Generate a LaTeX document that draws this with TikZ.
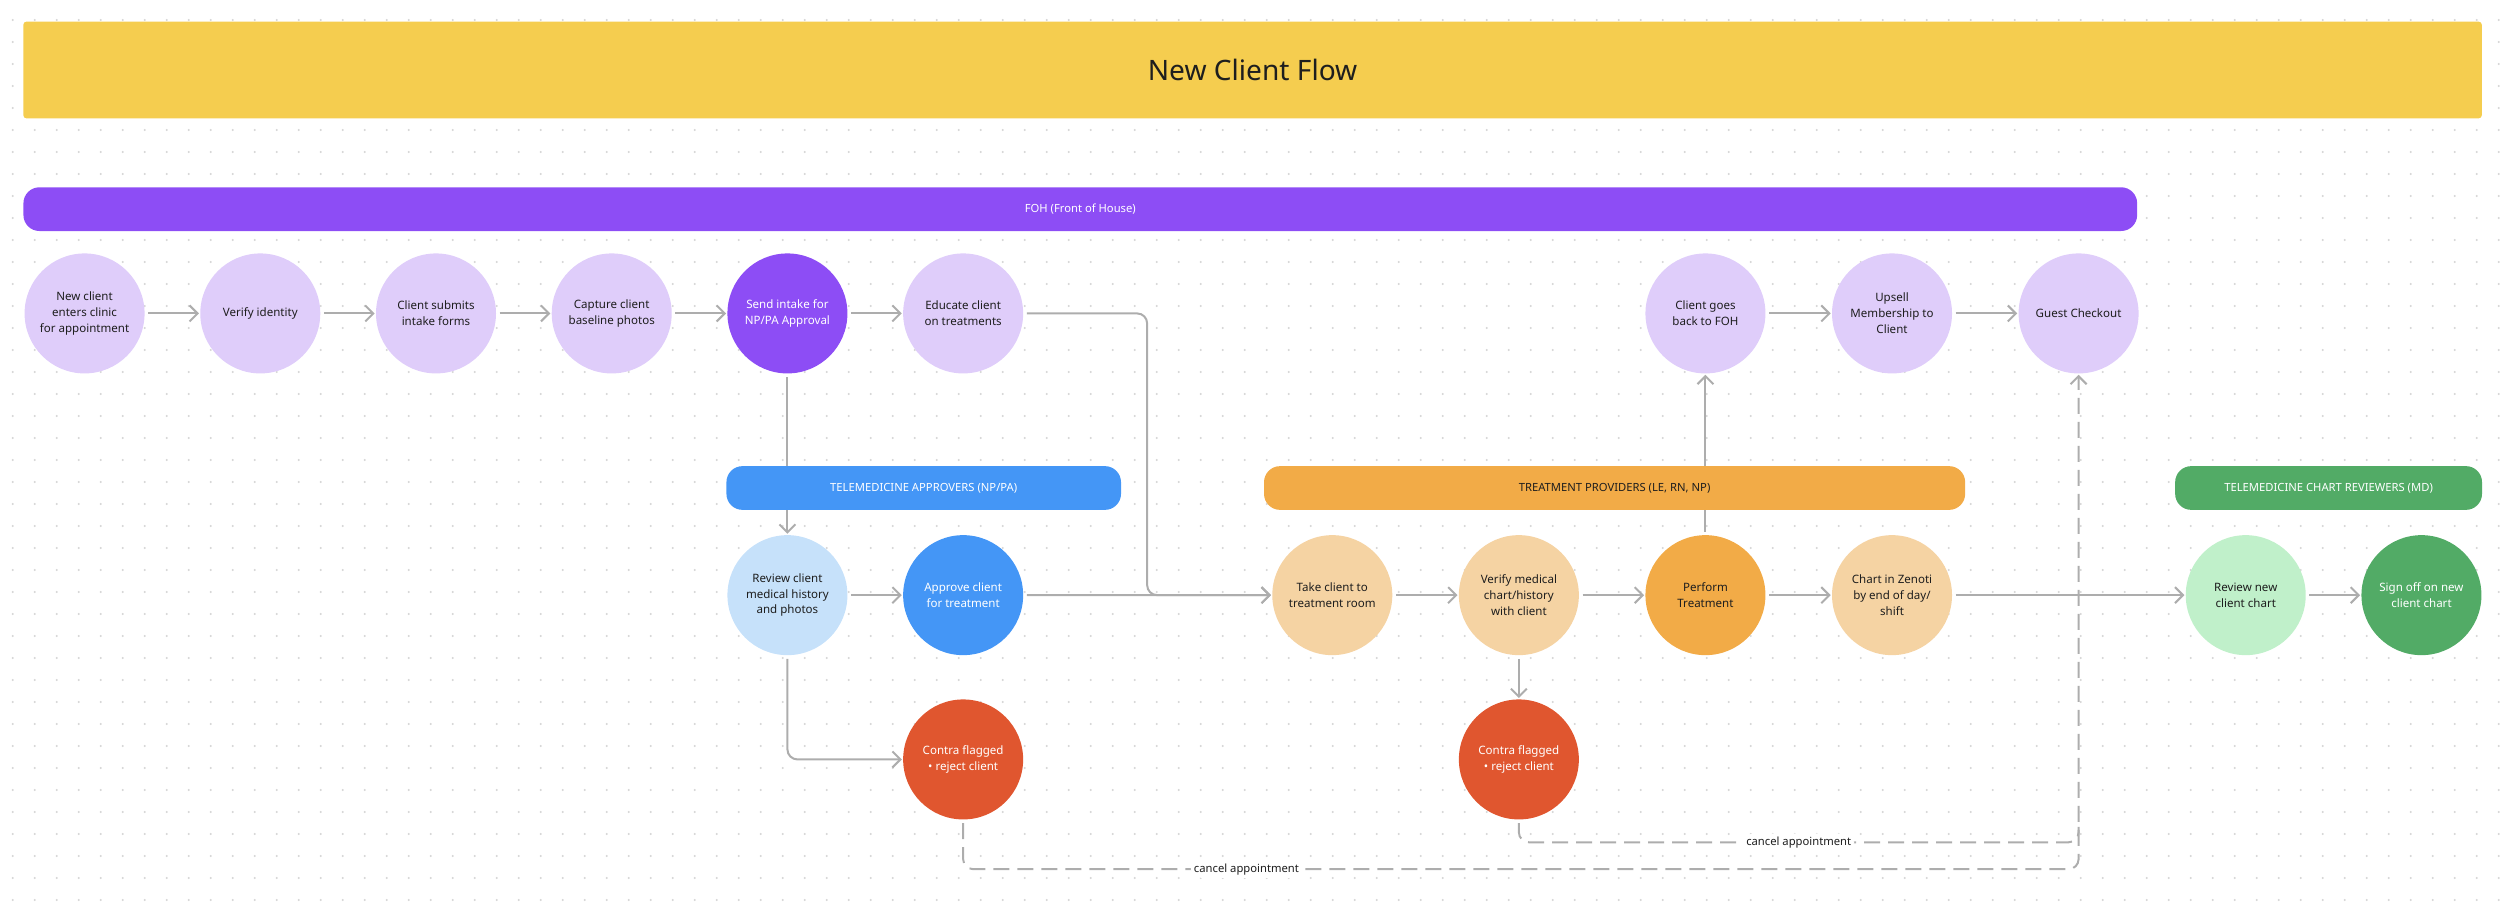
\documentclass[tikz,border=0pt]{standalone}
\usepackage{fontspec}
\setmainfont{Noto Sans}
\usetikzlibrary{arrows.meta}
\definecolor{bannery}{HTML}{F5CD4F}
\definecolor{fohdark}{HTML}{8D4DF5}
\definecolor{foholight}{HTML}{DFCDFA}
\definecolor{approvedark}{HTML}{4496F6}
\definecolor{approvelight}{HTML}{C6E1FA}
\definecolor{treatdark}{HTML}{F2AB47}
\definecolor{treatlight}{HTML}{F5D3A3}
\definecolor{mddark}{HTML}{52AB66}
\definecolor{mdlight}{HTML}{C0F0CA}
\definecolor{contrared}{HTML}{E0562F}
\definecolor{linegray}{HTML}{ADADAD}
\definecolor{dotgray}{HTML}{D4D4D4}
\definecolor{textdark}{HTML}{1E1E1E}
\tikzstyle{stepcircle} = [circle, minimum size=4.2cm, inner sep=0pt, align=center, text=textdark, font=\fontsize{11.5}{15.7}\selectfont]
\tikzstyle{lanebar} = [rectangle, rounded corners=0.56cm, minimum height=1.53cm, inner sep=0pt, font=\fontsize{11.2}{13}\selectfont]
\tikzstyle{connector} = [line width=0.07cm, linegray, rounded corners=0.35cm, shorten <=0.12cm, shorten >=0.04cm, -{Straight Barb[length=0.28cm, width=0.56cm]}]
\tikzstyle{cancel} = [connector, dash pattern=on 0.56cm off 0.28cm]
\tikzstyle{cancellabel} = [fill=white, inner sep=3pt, text=textdark, font=\fontsize{11.2}{13}\selectfont]

\begin{document}
\begin{tikzpicture}
        \useasboundingbox (0,0) rectangle (87.5,-31.78);
        \foreach \j in {0,...,40} {\fill [dotgray] \foreach \i in {0,...,113} {(0.445+0.77*\i,-0.7-0.77*\j) circle (0.04)};}
        \node (title) [rectangle, fill=bannery, rounded corners=0.1cm, minimum width=86.04cm, minimum height=3.38cm, text=textdark, font=\fontsize{28}{34}\selectfont] at (43.84,-2.45) {New Client Flow};
        \node (newclient) [stepcircle, fill=foholight] at (2.96,-10.97) {New client\\enters clinic\\for appointment};
        \node (verifyid) [stepcircle, fill=foholight, right of = newclient, xshift = 5.15cm] {Verify identity};
        \node (intake) [stepcircle, fill=foholight, right of = verifyid, xshift = 5.15cm] {Client submits\\intake forms};
        \node (photos) [stepcircle, fill=foholight, right of = intake, xshift = 5.15cm] {Capture client\\baseline photos};
        \node (sendintake) [stepcircle, fill=fohdark, text=white, right of = photos, xshift = 5.15cm] {Send intake for\\NP/PA Approval};
        \node (educate) [stepcircle, fill=foholight, right of = sendintake, xshift = 5.15cm] {Educate client\\on treatments};
        \node (review) [stepcircle, fill=approvelight, below of = sendintake, yshift = -8.86cm] {Review client\\medical history\\and photos};
        \node (approve) [stepcircle, fill=approvedark, text=white, right of = review, xshift = 5.15cm] {Approve client\\for treatment};
        \node (contraA) [stepcircle, fill=contrared, text=white, below of = approve, yshift = -4.75cm] {Contra flagged\\\textbullet\ reject client};
        \node (takeroom) [stepcircle, fill=treatlight] at (46.63,-20.83) {Take client to\\treatment room};
        \node (verifychart) [stepcircle, fill=treatlight, right of = takeroom, xshift = 5.53cm] {Verify medical\\chart/history\\with client};
        \node (perform) [stepcircle, fill=treatdark, right of = verifychart, xshift = 5.53cm] {Perform\\Treatment};
        \node (zenoti) [stepcircle, fill=treatlight, right of = perform, xshift = 5.53cm] {Chart in Zenoti\\by end of day/\\shift};
        \node (contraB) [stepcircle, fill=contrared, text=white, below of = verifychart, yshift = -4.75cm] {Contra flagged\\\textbullet\ reject client};
        \node (backfoh) [stepcircle, fill=foholight, above of = perform, yshift = 8.86cm] {Client goes\\back to FOH};
        \node (upsell) [stepcircle, fill=foholight, right of = backfoh, xshift = 5.53cm] {Upsell\\Membership to\\Client};
        \node (checkout) [stepcircle, fill=foholight, right of = upsell, xshift = 5.53cm] {Guest Checkout};
        \node (reviewchart) [stepcircle, fill=mdlight] at (78.6,-20.83) {Review new\\client chart};
        \node (signoff) [stepcircle, fill=mddark, text=white, right of = reviewchart, xshift = 5.15cm] {Sign off on new\\client chart};
        \coordinate (educturn) at (40.15,-20.83);
        \coordinate (cancelhigh) at (72.75,-29.48);
        \coordinate (cancelmerge) at (72.75,-28.9);
        \coordinate (cancellow) at (72.75,-30.42);
        \draw [connector] (newclient) -- (verifyid);
        \draw [connector] (verifyid) -- (intake);
        \draw [connector] (intake) -- (photos);
        \draw [connector] (photos) -- (sendintake);
        \draw [connector] (sendintake) -- (educate);
        \draw [connector] (sendintake.south) -- (review.north);
        \draw [connector] (educate.east) -| (educturn) -- (takeroom.west);
        \draw [connector] (review) -- (approve);
        \draw [connector] (approve) -- (takeroom);
        \draw [connector] (review.south) |- (contraA.west);
        \draw [connector] (takeroom) -- (verifychart);
        \draw [connector] (verifychart) -- (perform);
        \draw [connector] (perform) -- (zenoti);
        \draw [connector] (verifychart.south) -- (contraB.north);
        \draw [connector] (perform.north) -- (backfoh.south);
        \draw [connector] (backfoh) -- (upsell);
        \draw [connector] (upsell) -- (checkout);
        \draw [connector] (zenoti) -- (reviewchart);
        \draw [connector] (reviewchart) -- (signoff);
        \draw [cancel] (contraA.south) |- node [cancellabel, pos=0.627] {cancel appointment} (cancellow) -- (checkout.south);
        \draw [cancel, -] (contraB.south) |- node [cancellabel, pos=0.75] {cancel appointment} (cancelhigh) -- (cancelmerge);
        \node (foh) [lanebar, fill=fohdark, text=white, minimum width=73.98cm] at (37.81,-7.32) {FOH (Front of House)};
        \node (approvers) [lanebar, fill=approvedark, text=white, minimum width=13.81cm] at (32.33,-17.08) {TELEMEDICINE APPROVERS (NP/PA)};
        \node (providers) [lanebar, fill=treatdark, text=textdark, minimum width=24.54cm] at (56.51,-17.08) {TREATMENT PROVIDERS (LE, RN, NP)};
        \node (reviewers) [lanebar, fill=mddark, text=white, minimum width=10.74cm] at (81.5,-17.08) {TELEMEDICINE CHART REVIEWERS (MD)};
    \end{tikzpicture}
\end{document}
